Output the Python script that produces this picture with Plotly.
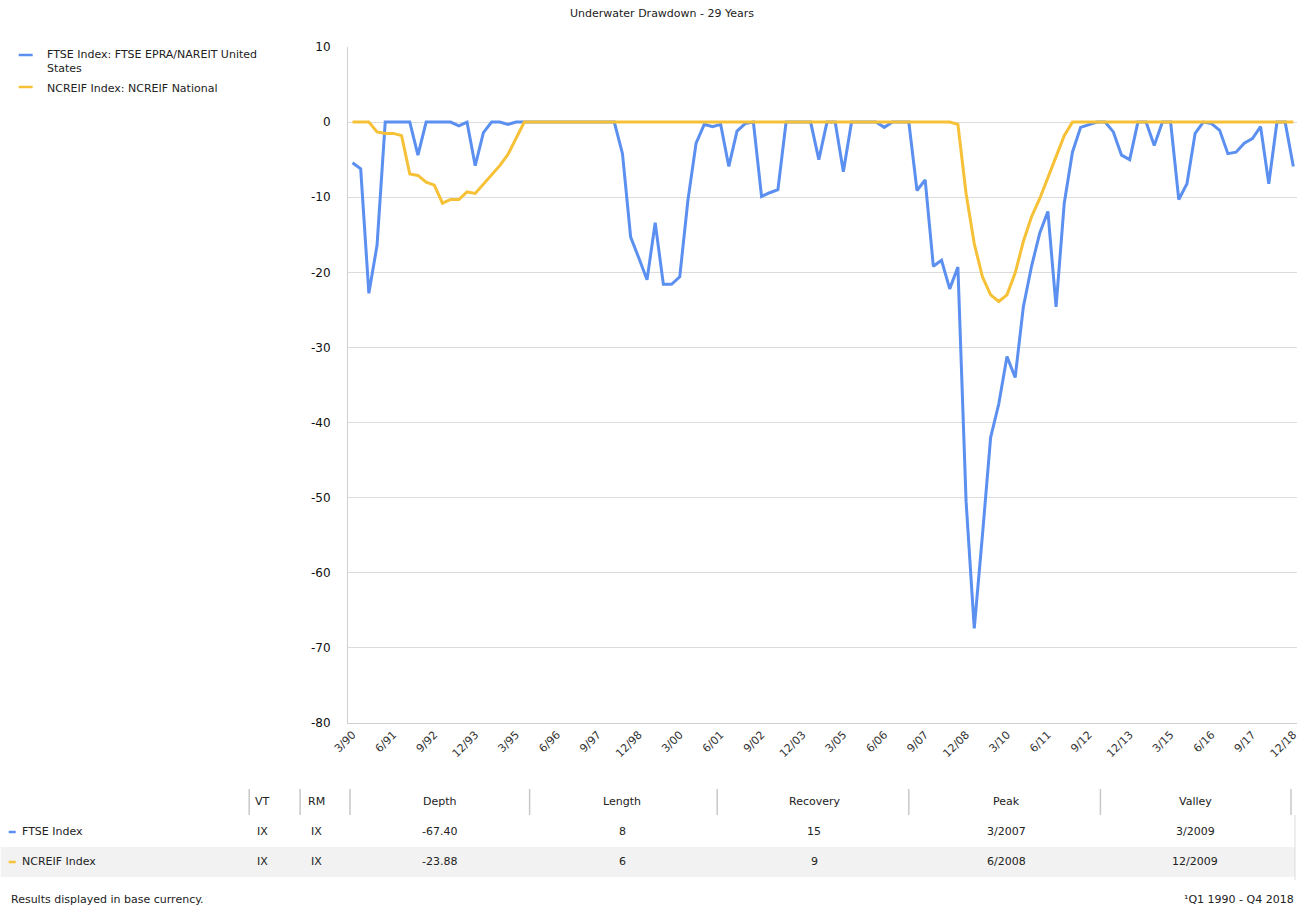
import plotly.graph_objects as go

# ---------------- data ----------------
QUARTERS = [f"{m}/{y % 100:02d}" for y in range(1990, 2019) for m in (3, 6, 9, 12)]
TICK_LABELS = ["3/90", "6/91", "9/92", "12/93", "3/95", "6/96", "9/97", "12/98",
               "3/00", "6/01", "9/02", "12/03", "3/05", "6/06", "9/07", "12/08",
               "3/10", "6/11", "9/12", "12/13", "3/15", "6/16", "9/17", "12/18"]
Y_TICKS = [10, 0, -10, -20, -30, -40, -50, -60, -70, -80]

FTSE = [-5.4, -6.2, -22.8, -16.4, 0, 0, 0, 0, -4.4, 0,
        0, 0, 0, -0.5, 0, -5.8, -1.4, 0, 0, -0.3,
        0, 0, 0, 0, 0, 0, 0, 0, 0, 0,
        0, 0, 0, -4.2, -15.3, -18.1, -21.0, -13.4, -21.6, -21.6,
        -20.6, -10.4, -2.8, -0.3, -0.6, -0.3, -5.9, -1.2, -0.2, 0,
        -9.9, -9.4, -9.0, 0, 0, 0, 0, -5.0, 0, 0,
        -6.6, 0, 0, 0, 0, -0.7, 0, 0, 0, -9.1,
        -7.7, -19.2, -18.4, -22.2, -19.3, -50.5, -67.4, -55.0, -42.0, -37.5,
        -31.2, -34.0, -24.6, -19.2, -14.8, -11.9, -24.6, -10.8, -4.0, -0.7,
        -0.4, 0, 0, -1.3, -4.4, -5.0, 0, 0, -3.1, 0,
        0, -10.3, -8.2, -1.5, 0, -0.2, -1.1, -4.2, -4.0, -2.8,
        -2.2, -0.6, -8.2, 0, 0, -5.9]

NCREIF = [0, 0, 0, -1.3, -1.5, -1.5, -1.8, -6.9, -7.1, -8.0,
          -8.4, -10.8, -10.3, -10.3, -9.3, -9.5, -8.3, -7.1, -5.8, -4.3,
          -2.2] + [0] * 53 + [
          -0.3, -9.5, -16.2, -20.6, -23.0, -23.88, -23.0, -20.1, -15.9, -12.6,
          -10.2, -7.3, -4.6, -1.8] + [0] * 28

SERIES_NAMES = ["FTSE Index: FTSE EPRA/NAREIT United<br>States", "NCREIF Index: NCREIF National"]
SERIES_COLORS = ["#5b8ff0", "#f6c136"]

TABLE_HEADERS = ["VT", "RM", "Depth", "Length", "Recovery", "Peak", "Valley"]
ROW_NAMES = ["FTSE Index", "NCREIF Index"]
VT = ["IX", "IX"]
RM = ["IX", "IX"]
DEPTH = ["-67.40", "-23.88"]
LENGTH = ["8", "6"]
RECOVERY = ["15", "9"]
PEAK = ["3/2007", "6/2008"]
VALLEY = ["3/2009", "12/2009"]

# ---------------- layout geometry (pixels) ----------------
W, H = 1302, 911
PL, PR, PT, PB = 348, 1299, 47, 723
FONT = "'DejaVu Sans', Verdana, sans-serif"
TXT = "#222"


def px(x):
    return (x - PL) / (PR - PL)


def py(y):
    return (PB - y) / (PB - PT)


fig = go.Figure()
for name, vals, col in zip(SERIES_NAMES, [FTSE, NCREIF], SERIES_COLORS):
    fig.add_trace(go.Scatter(x=list(range(len(QUARTERS))), y=vals, mode="lines", name=name,
                             line=dict(color=col, width=3), showlegend=False,
                             customdata=QUARTERS, hovertemplate="%{customdata}: %{y}<extra></extra>"))

shapes = []
annotations = []

# title
annotations.append(dict(text="Underwater Drawdown - 29 Years", x=px(663), y=py(14), xref="paper", yref="paper",
                        showarrow=False, font=dict(size=11, color=TXT, family=FONT),
                        xanchor="center", yanchor="middle"))

# legend
leg_y = [55, 87]
for i, col in enumerate(SERIES_COLORS):
    shapes.append(dict(type="line", xref="paper", yref="paper", x0=px(18), x1=px(32), y0=py(leg_y[i]), y1=py(leg_y[i]),
                       line=dict(color=col, width=2.5)))
for i, name in enumerate(SERIES_NAMES):
    top = [46, 80][i]
    annotations.append(dict(text=name, x=px(44), y=py(top), xref="paper", yref="paper", showarrow=False,
                            xanchor="left", yanchor="top", align="left",
                            font=dict(size=11, color=TXT, family=FONT)))

# table
col_x = [262, 316, 440, 623, 815, 1008, 1197]
sep_x = [249, 300, 350, 530, 718, 910, 1102, 1293]
hdr_y, row_y = 801, [831, 861]
shapes.append(dict(type="rect", xref="paper", yref="paper", x0=px(0), x1=px(1297), y0=py(877), y1=py(847),
                   fillcolor="#f2f2f2", line=dict(width=0), layer="below"))
for sx in sep_x:
    shapes.append(dict(type="line", xref="paper", yref="paper", x0=px(sx), x1=px(sx), y0=py(789), y1=py(815),
                       line=dict(color="#c8c8c8", width=1.5)))
shapes.append(dict(type="line", xref="paper", yref="paper", x0=px(1297), x1=px(1297), y0=py(815), y1=py(880),
                   line=dict(color="#dddddd", width=1)))
for cx, h in zip(col_x, TABLE_HEADERS):
    annotations.append(dict(text=h, x=px(cx), y=py(hdr_y), xref="paper", yref="paper", showarrow=False,
                            xanchor="center", yanchor="middle", font=dict(size=11, color=TXT, family=FONT)))
cols = [VT, RM, DEPTH, LENGTH, RECOVERY, PEAK, VALLEY]
for r in range(2):
    shapes.append(dict(type="line", xref="paper", yref="paper", x0=px(8), x1=px(15), y0=py(row_y[r] + 1),
                       y1=py(row_y[r] + 1), line=dict(color=SERIES_COLORS[r], width=2.5)))
    annotations.append(dict(text=ROW_NAMES[r], x=px(19), y=py(row_y[r]), xref="paper", yref="paper",
                            showarrow=False, xanchor="left", yanchor="middle",
                            font=dict(size=11, color=TXT, family=FONT)))
    for cx, c in zip(col_x, cols):
        annotations.append(dict(text=c[r], x=px(cx), y=py(row_y[r]), xref="paper", yref="paper",
                                showarrow=False, xanchor="center", yanchor="middle",
                                font=dict(size=11, color=TXT, family=FONT)))

# footer
annotations.append(dict(text="Results displayed in base currency.", x=px(8), y=py(899), xref="paper", yref="paper",
                        showarrow=False, xanchor="left", yanchor="middle", font=dict(size=11, color=TXT, family=FONT)))
annotations.append(dict(text="¹Q1 1990 - Q4 2018", x=px(1298), y=py(899), xref="paper", yref="paper",
                        showarrow=False, xanchor="right", yanchor="middle", font=dict(size=11, color=TXT, family=FONT)))

fig.update_layout(
    width=W, height=H,
    margin=dict(l=PL, r=W - PR, t=PT, b=H - PB, pad=0),
    paper_bgcolor="white", plot_bgcolor="white",
    shapes=shapes, annotations=annotations,
    font=dict(family=FONT, color=TXT),
    xaxis=dict(range=[-0.55, 115.45], tickmode="array",
               tickvals=[QUARTERS.index(t) for t in TICK_LABELS], ticktext=TICK_LABELS,
               tickangle=-45, tickfont=dict(size=11, color="#333", family=FONT),
               showgrid=False, zeroline=False, showline=True, linecolor="#cfcfcf", linewidth=1,
               ticks="", ticklen=0),
    yaxis=dict(range=[-80, 10], tickmode="array", tickvals=Y_TICKS, ticktext=[str(v) for v in Y_TICKS],
               showgrid=True, gridcolor="#dcdcdc",
               gridwidth=1, zeroline=False, showline=True, linecolor="#cfcfcf", linewidth=1,
               tickfont=dict(size=12, color="#111", family=FONT), ticks="", ticklabelstandoff=14),
)

fig.write_html("out.html", config={"displayModeBar": False},
               post_script="document.body.style.margin='0';document.body.style.overflow='hidden';")
